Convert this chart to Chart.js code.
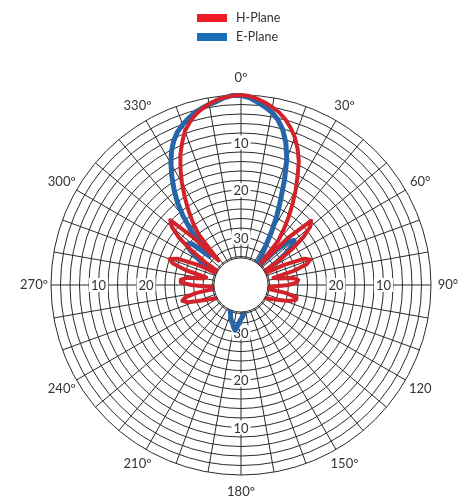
<!DOCTYPE html>
<html>
<head>
<meta charset="utf-8">
<script src="https://cdn.jsdelivr.net/npm/chart.js@4.4.1/dist/chart.umd.min.js"></script>
<style>
  html, body { margin: 0; padding: 0; background: #fff; }
  #wrap { position: relative; width: 465px; height: 502px; }
  #legend { position: absolute; left: 197px; top: 8px; font: 12.5px Lato, "Open Sans", sans-serif; color: #333; }
  .item { display: flex; align-items: center; height: 19px; }
  .swatch { width: 30px; height: 8px; margin-right: 9px; }
</style>
</head>
<body>
<div id="wrap">
  <canvas id="chart"></canvas>
  <div id="legend"></div>
</div>
<script>
// angle of each sample, clockwise from 0º, 2.5º apart
const angles = Array.from({ length: 144 }, (_, i) => i * 2.5)

// relative level in dB (-40 = centre, hidden in the hole)
const hPlane = [
  0, -0.15, -0.65, -1.25, -2.0, -2.8, -3.9, -5.3, -6.9, -8.9,
  -11.2, -14.2, -17.0, -19.8, -22.5, -25.2, -27.8, -34, -26, -20,
  -21, -23.5, -27, -31, -35, -37, -30, -25.5, -24.5, -25.5,
  -28.5, -33, -32, -28.8, -27.9, -28.3, -30, -33, -35.5, -35,
  -30.5, -28, -28, -29, -30.5, -32, -33, -34, -35, -36,
  -38, -40, -40, -40, -40, -40, -40, -40, -40, -40,
  -40, -40, -40, -40, -40, -40, -40, -40, -40, -40,
  -40, -40, -40, -40, -40, -40, -40, -40, -40, -40,
  -40, -40, -40, -40, -40, -40, -40, -40, -40, -40,
  -40, -40, -40, -40, -38, -36, -35, -34, -33, -31.8,
  -30, -28, -27.2, -28, -30.5, -35, -35.5, -32.5, -29.5, -27.3,
  -27.3, -28.5, -32, -32.5, -28, -25, -24, -25.5, -30, -37,
  -35, -31, -27, -23.5, -21, -19.8, -26, -33, -26.2, -23.3,
  -20.6, -17.9, -15.1, -12.4, -9.8, -7.6, -5.5, -4.1, -2.9, -2.0,
  -1.3, -0.7, -0.35, -0.1
]

const ePlane = [
  -0.1, -0.5, -1.3, -2.1, -3.0, -4.3, -6.1, -8.6, -11.8, -16.1,
  -20.3, -23.7, -27.3, -30.5, -32.5, -34.5, -37, -36, -30, -26.5,
  -25.4, -26.5, -28.5, -31, -33.5, -36, -40, -40, -40, -40,
  -40, -40, -40, -40, -40, -40, -40, -40, -40, -40,
  -40, -40, -40, -40, -40, -40, -40, -40, -40, -40,
  -40, -40, -40, -40, -40, -40, -40, -40, -40, -40,
  -40, -40, -40, -40, -40, -40, -40, -40, -40, -34.5,
  -33.8, -33.3, -32.8, -32.2, -31.3, -30.4, -31.0, -31.8, -32.2, -32.8,
  -33.5, -34.2, -35, -37, -40, -40, -40, -40, -40, -40,
  -40, -40, -40, -40, -40, -40, -40, -40, -40, -40,
  -40, -40, -40, -40, -36, -33.5, -35, -37, -40, -40,
  -40, -40, -40, -40, -40, -40, -38, -36.5, -34.5, -32.5,
  -30.5, -28.5, -26.5, -25.8, -26.5, -31, -28.5, -24.5, -21, -18,
  -15.4, -12.9, -10.5, -8.3, -6.5, -5.1, -4.1, -3.2, -2.4, -1.9,
  -1.4, -1.0, -0.4, -0.05
]

const angleTickLabels = ["0º", "30º", "60°", "90°", "120", "150º", "180º", "210º", "240º", "270º", "300º", "330º"]
const ringTickValues = [-10, -20, -30]
const ringTickLabels = ["10", "20", "30"]
const holeValue = -34.3

const red = "#d3222a"
const blue = "#2565a8"
const gridColor = "#2b2b2b"
const labelFont = "13px Lato, 'Open Sans', sans-serif"

const polarDecor = {
  id: "polarDecor",
  beforeDatasetsDraw(chart) {
    const s = chart.scales.r
    const ctx = chart.ctx
    ctx.save()
    ctx.font = labelFont
    ctx.textAlign = "center"
    ctx.textBaseline = "middle"

    // ring labels on the four main axes, under the traces
    // (the innermost one is lost in the side lobes left and right)
    const perQuarter = angles.length / 4
    for (let q = 0; q < 4; q++) {
      ringTickValues.forEach((v, k) => {
        if (q % 2 === 1 && k === ringTickValues.length - 1) return
        const p = s.getPointPosition(q * perQuarter, s.getDistanceFromCenterForValue(v))
        const txt = ringTickLabels[k]
        const w = ctx.measureText(txt).width
        ctx.fillStyle = "#fff"
        ctx.fillRect(p.x - w / 2 - 2, p.y - 7, w + 4, 14)
        ctx.fillStyle = "#333"
        ctx.fillText(txt, p.x, p.y + 1)
      })
    }
    ctx.restore()
  },
  afterDatasetsDraw(chart) {
    const s = chart.scales.r
    const ctx = chart.ctx
    ctx.save()

    // white hole in the middle
    ctx.beginPath()
    ctx.arc(s.xCenter, s.yCenter, s.getDistanceFromCenterForValue(holeValue), 0, Math.PI * 2)
    ctx.fillStyle = "#fff"
    ctx.fill()
    ctx.lineWidth = 1
    ctx.strokeStyle = gridColor
    ctx.stroke()

    // angle labels round the outside
    ctx.font = labelFont
    ctx.textAlign = "center"
    ctx.textBaseline = "middle"
    const step = angles.length / angleTickLabels.length
    angleTickLabels.forEach((txt, k) => {
      const p = s.getPointPosition(k * step, s.drawingArea + 17)
      ctx.fillStyle = "#333"
      ctx.fillText(txt, p.x, p.y)
    })
    ctx.restore()
  }
}

const chart = new Chart(document.getElementById("chart"), {
  type: "radar",
  data: {
    labels: angles,
    datasets: [
      {
        label: "H-Plane",
        data: hPlane,
        borderColor: red,
        borderWidth: 4,
        legendColor: "#ee1d25"
      },
      {
        label: "E-Plane",
        data: ePlane,
        borderColor: blue,
        borderWidth: 5,
        legendColor: "#1b6fb9"
      }
    ]
  },
  options: {
    responsive: true,
    maintainAspectRatio: false,
    animation: false,
    layout: { padding: { left: 51, top: 95, right: 34, bottom: 27 } },
    elements: {
      line: { tension: 0, fill: false, borderJoinStyle: "round", borderCapStyle: "round" },
      point: { radius: 0, hoverRadius: 0 }
    },
    plugins: {
      legend: { display: false },
      tooltip: { enabled: false }
    },
    scales: {
      r: {
        min: -40,
        max: 0,
        ticks: { display: false, stepSize: 2 },
        grid: { circular: true, color: gridColor, lineWidth: 1 },
        angleLines: {
          color: gridColor,
          lineWidth: (c) => (c.index % 4 === 0 ? 1 : 0)
        },
        pointLabels: { display: false }
      }
    }
  },
  plugins: [polarDecor]
})

// legend stacked above the plot, like the original
const legend = document.getElementById("legend")
chart.data.datasets.forEach((ds) => {
  const row = document.createElement("div")
  row.className = "item"
  const sw = document.createElement("span")
  sw.className = "swatch"
  sw.style.background = ds.legendColor
  const t = document.createElement("span")
  t.textContent = ds.label
  row.appendChild(sw)
  row.appendChild(t)
  legend.appendChild(row)
})
</script>
</body>
</html>
